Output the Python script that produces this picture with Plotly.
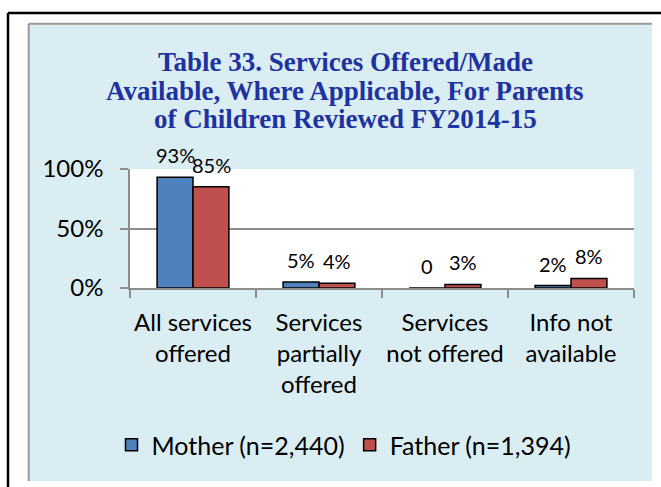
import plotly.graph_objects as go

categories = ["All services<br>offered", "Services<br>partially<br>offered",
              "Services<br>not offered", "Info not<br>available"]
mother_values = [93, 5, 0, 2]
father_values = [85, 4, 3, 8]
mother_labels = ["93%", "5%", "0", "2%"]
father_labels = ["85%", "4%", "3%", "8%"]
mother_name = "Mother (n=2,440)"
father_name = "Father (n=1,394)"
y_ticks = [0, 50, 100]
y_tick_labels = ["0%", "50%", "100%"]
title_lines = ["Table 33. Services Offered/Made",
               "Available, Where Applicable, For Parents",
               "of Children Reviewed FY2014-15"]

SANS = "Lato, 'Open Sans', sans-serif"
W, H = 661, 487
L, R, T, B = 130, 27, 169, 199
pw, ph = W - L - R, H - T - B


def px_x(p):
    return (p - L) / pw


def px_y(p):
    return (H - B - p) / ph


fig = go.Figure()
fig.add_trace(go.Bar(x=categories, y=mother_values, name=mother_name,
                     marker=dict(color="#4F81BD", line=dict(color="black", width=1.5))))
fig.add_trace(go.Bar(x=categories, y=father_values, name=father_name,
                     marker=dict(color="#C0504D", line=dict(color="black", width=1.5))))

annotations = []
for cat, v, t in zip(categories, mother_values, mother_labels):
    annotations.append(dict(x=cat, y=v, text=t, showarrow=False, xshift=-18, yshift=22,
                            yanchor="middle", font=dict(family=SANS, size=20, color="black")))
for cat, v, t in zip(categories, father_values, father_labels):
    annotations.append(dict(x=cat, y=v, text=t, showarrow=False, xshift=18, yshift=22,
                            yanchor="middle", font=dict(family=SANS, size=20, color="black")))

title_centres = [62, 91, 119]
for line, yc in zip(title_lines, title_centres):
    annotations.append(dict(xref="paper", yref="paper", x=px_x(345), y=px_y(yc), text=line,
                            showarrow=False, xanchor="center", yanchor="middle",
                            font=dict(family="'Liberation Serif', 'Times New Roman', serif",
                                      size=27, color="#1E32A0", weight="bold")))

shapes = [
    dict(type="rect", xref="paper", yref="paper", x0=px_x(28.7), x1=px_x(652),
         y0=px_y(481), y1=px_y(23.7), fillcolor="#DAEDF3", line=dict(width=0), layer="below"),
    dict(type="rect", xref="paper", yref="paper", x0=0, x1=1, y0=0, y1=1,
         fillcolor="white", line=dict(width=0), layer="below"),
    dict(type="line", xref="paper", yref="paper", x0=px_x(28.7), x1=px_x(28.7),
         y0=px_y(481), y1=px_y(23.7), line=dict(color="#989898", width=2), layer="below"),
    dict(type="line", xref="paper", yref="paper", x0=px_x(28.7), x1=px_x(652),
         y0=px_y(23.7), y1=px_y(23.7), line=dict(color="#989898", width=2), layer="below"),
    dict(type="line", xref="paper", yref="paper", x0=px_x(8), x1=px_x(8),
         y0=px_y(500), y1=px_y(13), line=dict(color="black", width=2.5), layer="below"),
    dict(type="line", xref="paper", yref="paper", x0=px_x(8), x1=px_x(670),
         y0=px_y(13), y1=px_y(13), line=dict(color="black", width=2.5), layer="below"),
]

fig.update_layout(
    width=W, height=H,
    margin=dict(l=L, r=R, t=T, b=B, autoexpand=False),
    paper_bgcolor="white", plot_bgcolor="white",
    barmode="group", bargap=0.43, bargroupgap=0,
    showlegend=True,
    legend=dict(orientation="h", x=px_x(344), xanchor="center", y=px_y(445), yanchor="middle",
                font=dict(family=SANS, size=25, color="black"), bgcolor="rgba(0,0,0,0)",
                itemwidth=30, traceorder="normal"),
    xaxis=dict(type="category", showline=True, linecolor="#8C8C8C", linewidth=1.5,
               ticks="outside", tickson="boundaries", ticklen=8, tickcolor="#8C8C8C",
               tickwidth=1.5, tickfont=dict(family=SANS, size=24, color="black"),
               tickangle=0, ticklabelstandoff=12, showgrid=False),
    yaxis=dict(range=[0, 100], tickvals=y_ticks, ticktext=y_tick_labels,
               showline=True, linecolor="#8C8C8C", linewidth=1.5,
               ticks="outside", ticklen=8, tickcolor="#8C8C8C", tickwidth=1.5,
               ticklabelstandoff=12,
               showgrid=True, gridcolor="#8C8C8C", gridwidth=1.5, zeroline=False,
               tickfont=dict(family=SANS, size=24, color="black")),
    annotations=annotations,
    shapes=shapes,
)

fig.write_html("out.html", config={"displayModeBar": False},
               post_script="document.body.style.margin='0';document.body.style.padding='0';")
